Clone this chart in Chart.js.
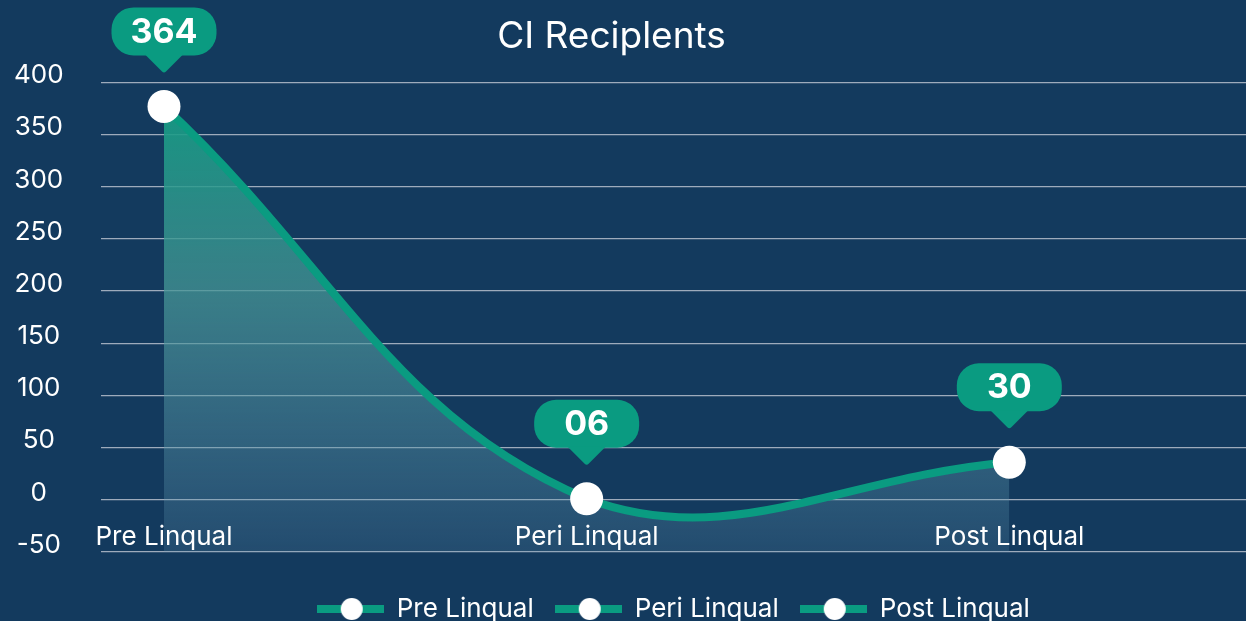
<!DOCTYPE html>
<html>
<head>
<meta charset="utf-8">
<script src="https://cdn.jsdelivr.net/npm/chart.js@4"></script>
<style>
  html, body { margin: 0; padding: 0; background: #133a5e; }
  #wrap { width: 1246px; height: 621px; }
</style>
</head>
<body>
<div id="wrap"><canvas id="ciChart"></canvas></div>
<script>
// data
const categories = ['Pre Linqual', 'Peri Linqual', 'Post Linqual'];
const recipients = [377, 1, 36];
const bubbleLabels = ['364', '06', '30'];
const yTicks = [-50, 0, 50, 100, 150, 200, 250, 300, 350, 400];

const teal = '#0a9b81';
const fontName = 'Inter, "Noto Sans", sans-serif';

// legend marker: teal line with white dot
function makeMarker() {
    let c = document.createElement('canvas');
    c.width = 67;
    c.height = 24;
    let g = c.getContext('2d');
    g.fillStyle = teal;
    g.fillRect(0, 8, 67, 8);
    g.fillStyle = '#ffffff';
    g.beginPath();
    g.arc(35, 12, 11, 0, Math.PI * 2);
    g.fill();
    return c;
}
const marker = makeMarker();

// value bubbles above the points + category names inside the plot
const bubblePlugin = {
    id: 'bubbles',
    afterDatasetsDraw(chart) {
        const ctx = chart.ctx;
        const meta = chart.getDatasetMeta(0);
        const yScale = chart.scales.y;
        ctx.save();
        // category names
        ctx.fillStyle = '#ffffff';
        ctx.font = '26px ' + fontName;
        ctx.textAlign = 'center';
        ctx.textBaseline = 'middle';
        const labelY = yScale.getPixelForValue(yTicks[0]) - 15;
        meta.data.forEach((pt, i) => {
            ctx.fillText(categories[i], pt.x, labelY);
        });
        // bubbles
        const w = 105, h = 48, r = 22, tipH = 17, tipW = 17;
        meta.data.forEach((pt, i) => {
            const tipY = pt.y - 34;
            const bottom = tipY - tipH;
            const top = bottom - h;
            const left = pt.x - w / 2;
            ctx.fillStyle = teal;
            ctx.beginPath();
            ctx.roundRect(left, top, w, h, r);
            ctx.fill();
            ctx.beginPath();
            ctx.moveTo(pt.x - tipW - 2, bottom - 1);
            ctx.lineTo(pt.x + tipW + 2, bottom - 1);
            ctx.lineTo(pt.x + 2, tipY - 1);
            ctx.quadraticCurveTo(pt.x, tipY + 1, pt.x - 2, tipY - 1);
            ctx.closePath();
            ctx.fill();
            ctx.fillStyle = '#ffffff';
            ctx.font = 'bold 34px ' + fontName;
            ctx.fillText(bubbleLabels[i], pt.x, top + h / 2 + 1);
        });
        ctx.restore();
    }
};

const ctx = document.getElementById('ciChart');
new Chart(ctx, {
    type: 'line',
    data: {
        datasets: [{
            label: 'CI Recipients',
            data: recipients.map((v, i) => ({ x: i, y: v })),
            borderColor: teal,
            borderWidth: 8,
            tension: 0.4,
            fill: 'start',
            backgroundColor: function (c) {
                const area = c.chart.chartArea;
                if (!area) return 'rgba(10,155,129,0.5)';
                const grad = c.chart.ctx.createLinearGradient(0, area.top, 0, area.bottom);
                grad.addColorStop(0, 'rgba(16,158,130,0.95)');
                grad.addColorStop(0.45, 'rgba(70,150,150,0.75)');
                grad.addColorStop(1, 'rgba(100,150,180,0.2)');
                return grad;
            },
            pointRadius: 16.5,
            pointHoverRadius: 16.5,
            pointBackgroundColor: '#ffffff',
            pointBorderWidth: 0
        }]
    },
    options: {
        responsive: true,
        maintainAspectRatio: false,
        animation: false,
        layout: {
            autoPadding: false,
            padding: { left: -23, right: 0, top: 0, bottom: -11 }
        },
        scales: {
            x: {
                type: 'linear',
                min: -0.15,
                max: 2.56,
                ticks: { display: false },
                grid: { display: false },
                border: { display: false },
                afterFit: function (axis) { axis.height = 23; }
            },
            y: {
                min: -50,
                max: 400,
                afterBuildTicks: function (axis) {
                    axis.ticks = yTicks.map(v => ({ value: v }));
                },
                ticks: {
                    color: '#ffffff',
                    font: { family: fontName, size: 26 },
                    crossAlign: 'center',
                    padding: 37,
                    labelOffset: -7
                },
                grid: {
                    color: 'rgba(205,210,220,0.75)',
                    lineWidth: 1.3,
                    drawTicks: false
                },
                border: { display: false }
            }
        },
        plugins: {
            title: {
                display: true,
                text: 'CI Reciplents',
                color: '#ffffff',
                font: { family: fontName, size: 37, weight: 'normal' },
                padding: { top: 15, bottom: 23 }
            },
            legend: {
                position: 'bottom',
                fullSize: false,
                labels: {
                    color: '#ffffff',
                    font: { family: fontName, size: 26 },
                    usePointStyle: true,
                    pointStyleWidth: 67,
                    padding: 21,
                    generateLabels: function () {
                        return categories.map((name, i) => ({
                            text: name,
                            pointStyle: marker,
                            fontColor: '#ffffff',
                            hidden: false,
                            datasetIndex: 0,
                            index: i
                        }));
                    }
                }
            },
            tooltip: { enabled: false }
        }
    },
    plugins: [bubblePlugin]
});
</script>
</body>
</html>
